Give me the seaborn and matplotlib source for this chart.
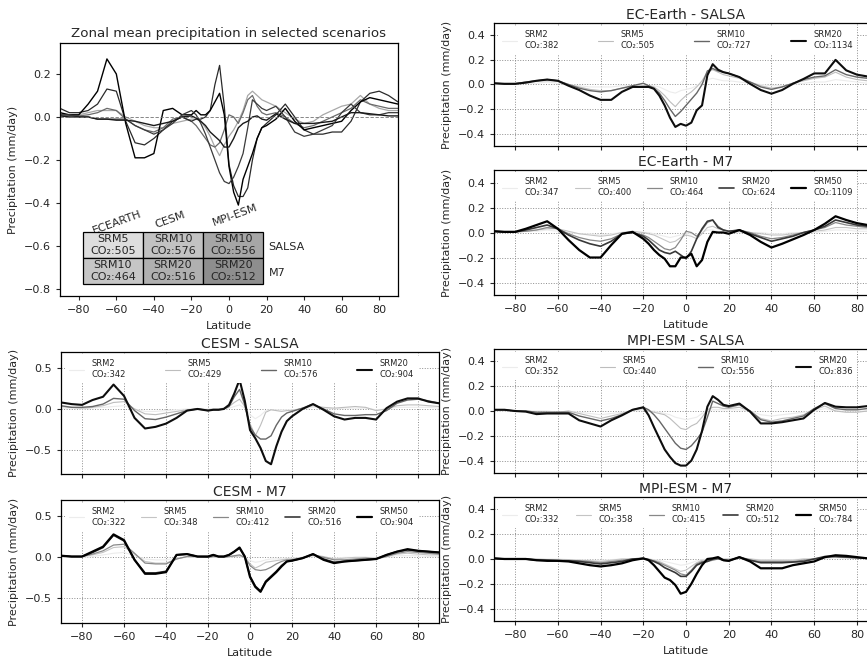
import numpy as np
import pandas as pd
import matplotlib
matplotlib.use("Agg")
import matplotlib.pyplot as plt
import seaborn as sns

sns.set_style("ticks")
plt.rcParams["font.family"] = ["DejaVu Sans"]

# ---------------- data ----------------
LAT = [-90, -85, -80, -75, -70, -65, -60, -55, -50, -45, -40, -35, -30, -25,
       -20, -17.5, -15, -12.5, -10, -7.5, -5, -2.5, 0, 2.5, 5, 7.5, 10, 12.5, 15, 17.5, 20,
       25, 30, 35, 40, 45, 50, 55, 60, 65, 70, 75, 80, 85, 90]

# EC-Earth SALSA
ECS_SRM2 = [0.0, 0.0, 0.01, 0.01, 0.01, 0.02, 0.01, 0.0, -0.01, -0.02, -0.02, -0.02, -0.01, -0.01,
            0.0, -0.01, -0.01, -0.02, -0.04, -0.06, -0.07, -0.05, -0.04, -0.03, -0.01, 0.01, 0.04, 0.05, 0.04, 0.03, 0.03,
            0.02, 0.01, 0.0, -0.01, -0.01, 0.0, 0.01, 0.02, 0.02, 0.04, 0.03, 0.02, 0.01, 0.01]
ECS_SRM5 = [0.01, 0.01, 0.01, 0.02, 0.03, 0.03, 0.03, 0.0, -0.02, -0.04, -0.05, -0.05, -0.03, -0.02,
            -0.01, -0.01, -0.02, -0.05, -0.09, -0.14, -0.18, -0.13, -0.09, -0.06, -0.02, 0.03, 0.10, 0.12, 0.10, 0.08, 0.07,
            0.05, 0.02, -0.01, -0.03, -0.02, 0.01, 0.03, 0.05, 0.06, 0.10, 0.06, 0.04, 0.03, 0.03]
ECS_SRM10 = [0.01, 0.005, 0.005, 0.02, 0.03, 0.04, 0.03, 0.0, -0.03, -0.05, -0.06, -0.05, -0.03, -0.01,
             0.01, -0.01, -0.03, -0.07, -0.13, -0.2, -0.26, -0.22, -0.17, -0.12, -0.07, 0.0, 0.11, 0.13, 0.11, 0.10, 0.09,
             0.06, 0.02, -0.02, -0.04, -0.02, 0.01, 0.04, 0.06, 0.07, 0.12, 0.08, 0.06, 0.05, 0.05]
ECS_SRM20 = [0.01, 0.005, 0.005, 0.015, 0.03, 0.04, 0.03, -0.01, -0.045, -0.09, -0.125, -0.125, -0.06, -0.02,
             -0.02, -0.02, -0.035, -0.09, -0.17, -0.27, -0.345, -0.32, -0.335, -0.31, -0.21, -0.17, 0.075, 0.165, 0.12, 0.10, 0.09,
             0.06, 0.005, -0.045, -0.075, -0.045, 0.005, 0.045, 0.09, 0.09, 0.2, 0.115, 0.08, 0.065, 0.065]

# EC-Earth M7
ECM_SRM2 = [0.0, 0.0, 0.0, 0.01, 0.01, 0.02, 0.01, 0.0, -0.01, -0.01, -0.02, -0.01, 0.0, 0.0,
            0.0, 0.0, -0.01, -0.02, -0.03, -0.04, -0.03, -0.02, -0.01, -0.01, -0.02, 0.0, 0.02, 0.02, 0.01, 0.01, 0.0,
            0.0, 0.0, 0.0, -0.01, -0.01, 0.0, 0.0, 0.0, 0.01, 0.02, 0.02, 0.01, 0.01, 0.01]
ECM_SRM5 = [0.01, 0.01, 0.01, 0.01, 0.02, 0.03, 0.03, 0.01, -0.01, -0.02, -0.03, -0.02, 0.0, 0.01,
            0.0, -0.01, -0.02, -0.04, -0.06, -0.08, -0.07, -0.04, -0.02, -0.03, -0.05, -0.01, 0.04, 0.05, 0.03, 0.02, 0.01,
            0.01, 0.0, -0.01, -0.02, -0.02, -0.01, 0.0, 0.01, 0.02, 0.04, 0.04, 0.03, 0.03, 0.03]
ECM_SRM10 = [0.01, 0.005, 0.005, 0.01, 0.02, 0.04, 0.03, -0.01, -0.04, -0.06, -0.07, -0.05, -0.01, 0.0,
             -0.02, -0.04, -0.07, -0.1, -0.13, -0.14, -0.12, -0.06, 0.01, 0.0, -0.03, 0.02, 0.08, 0.1, 0.05, 0.02, 0.01,
             0.02, 0.0, -0.03, -0.05, -0.04, -0.02, 0.0, 0.02, 0.04, 0.08, 0.06, 0.05, 0.04, 0.04]
ECM_SRM20 = [0.01, 0.005, 0.005, 0.02, 0.04, 0.06, 0.03, -0.02, -0.06, -0.09, -0.11, -0.07, -0.01, 0.0,
             -0.03, -0.06, -0.1, -0.14, -0.16, -0.17, -0.15, -0.18, -0.21, -0.15, -0.05, 0.03, 0.09, 0.1, 0.04, 0.02, 0.01,
             0.02, -0.01, -0.04, -0.07, -0.05, -0.03, 0.0, 0.02, 0.05, 0.1, 0.08, 0.06, 0.05, 0.04]
ECM_SRM50 = [0.01, 0.005, 0.005, 0.03, 0.06, 0.09, 0.03, -0.06, -0.14, -0.2, -0.2, -0.10, -0.01, 0.005,
             -0.05, -0.09, -0.14, -0.18, -0.21, -0.27, -0.27, -0.2, -0.2, -0.17, -0.27, -0.22, -0.075, 0.005, 0.0, 0.0, -0.01,
             0.02, -0.02, -0.075, -0.12, -0.09, -0.055, -0.02, 0.02, 0.07, 0.13, 0.10, 0.075, 0.06, 0.05]

# CESM SALSA
CS_SRM2 = [0.01, 0.01, 0.0, 0.01, 0.02, 0.03, 0.04, 0.0, -0.03, -0.03, -0.02, -0.01, 0.0, 0.0,
           0.0, 0.0, 0.0, 0.0, 0.01, 0.03, 0.05, 0.01, -0.07, -0.12, -0.08, -0.02, -0.01, -0.01, -0.01, -0.01, -0.01,
           0.0, 0.02, 0.01, 0.0, 0.01, 0.01, 0.01, -0.01, 0.0, 0.02, 0.02, 0.02, 0.02, 0.01]
CS_SRM5 = [0.03, 0.02, 0.01, 0.02, 0.04, 0.08, 0.09, 0.0, -0.06, -0.07, -0.05, -0.03, -0.01, 0.0,
           -0.01, 0.0, 0.0, 0.01, 0.03, 0.08, 0.12, 0.03, -0.18, -0.33, -0.2, -0.04, -0.01, -0.02, -0.03, -0.02, -0.02,
           0.01, 0.04, 0.02, 0.01, 0.02, 0.03, 0.02, -0.02, 0.0, 0.04, 0.05, 0.05, 0.04, 0.03]
CS_SRM10 = [0.04, 0.02, 0.02, 0.03, 0.06, 0.13, 0.12, -0.02, -0.12, -0.13, -0.10, -0.06, -0.02, 0.0,
            -0.02, -0.01, -0.01, 0.0, 0.03, 0.15, 0.24, 0.05, -0.22, -0.32, -0.37, -0.37, -0.33, -0.2, -0.1, -0.05, -0.03,
            0.01, 0.06, 0.0, -0.06, -0.08, -0.08, -0.07, -0.07, -0.02, 0.07, 0.11, 0.12, 0.10, 0.07]
CS_SRM20 = [0.08, 0.06, 0.05, 0.11, 0.15, 0.30, 0.16, -0.11, -0.24, -0.22, -0.18, -0.11, -0.02, 0.0,
            -0.02, -0.01, -0.01, 0.0, 0.05, 0.19, 0.36, 0.10, -0.26, -0.36, -0.48, -0.64, -0.68, -0.46, -0.28, -0.15, -0.09,
            0.0, 0.06, -0.01, -0.09, -0.13, -0.11, -0.11, -0.13, 0.01, 0.09, 0.13, 0.13, 0.09, 0.07]

# CESM M7
CM_SRM2 = [0.0, 0.0, 0.0, 0.01, 0.03, 0.05, 0.06, 0.02, -0.02, -0.03, -0.03, -0.01, 0.0, 0.0,
           0.0, 0.0, 0.0, 0.0, 0.0, 0.01, 0.01, 0.0, -0.04, -0.06, -0.05, -0.03, -0.02, -0.02, -0.01, -0.01, -0.01,
           0.0, 0.01, 0.0, -0.01, 0.0, 0.0, 0.0, 0.0, 0.0, 0.02, 0.02, 0.02, 0.01, 0.01]
CM_SRM5 = [0.01, 0.01, 0.01, 0.03, 0.06, 0.12, 0.13, 0.04, -0.05, -0.07, -0.07, -0.02, 0.01, 0.01,
           0.0, 0.01, 0.0, 0.0, 0.01, 0.01, 0.02, 0.0, -0.08, -0.13, -0.1, -0.06, -0.05, -0.04, -0.03, -0.02, -0.02,
           0.0, 0.03, 0.01, -0.02, -0.01, 0.0, 0.0, -0.01, 0.01, 0.04, 0.05, 0.04, 0.03, 0.03]
CM_SRM10 = [0.02, 0.01, 0.01, 0.04, 0.08, 0.15, 0.16, 0.05, -0.07, -0.08, -0.08, -0.02, 0.01, 0.01,
            0.0, 0.01, 0.01, 0.0, 0.01, 0.02, 0.03, 0.0, -0.1, -0.15, -0.16, -0.15, -0.12, -0.08, -0.05, -0.03, -0.03,
            -0.01, 0.03, 0.0, -0.03, -0.03, -0.02, -0.01, -0.02, 0.01, 0.05, 0.07, 0.06, 0.05, 0.04]
CM_SRM20 = [0.02, 0.01, 0.01, 0.06, 0.12, 0.27, 0.20, -0.03, -0.19, -0.19, -0.17, 0.03, 0.04, 0.01,
            0.01, 0.03, 0.01, 0.01, 0.03, 0.07, 0.11, 0.01, -0.23, -0.35, -0.41, -0.29, -0.23, -0.17, -0.10, -0.05, -0.04,
            -0.01, 0.04, -0.02, -0.06, -0.05, -0.04, -0.03, -0.02, 0.03, 0.07, 0.09, 0.08, 0.07, 0.06]
CM_SRM50 = [0.02, 0.01, 0.01, 0.07, 0.13, 0.28, 0.21, -0.03, -0.2, -0.2, -0.18, 0.03, 0.04, 0.01,
            0.01, 0.03, 0.01, 0.01, 0.03, 0.07, 0.12, 0.01, -0.24, -0.36, -0.42, -0.3, -0.24, -0.18, -0.11, -0.05, -0.04,
            -0.01, 0.04, -0.03, -0.07, -0.05, -0.04, -0.03, -0.02, 0.03, 0.07, 0.10, 0.08, 0.07, 0.06]

# MPI-ESM SALSA
MS_SRM2 = [0.0, 0.0, 0.0, 0.0, 0.0, 0.0, -0.01, 0.0, -0.01, -0.02, -0.03, -0.02, -0.01, 0.0,
           0.01, 0.0, 0.0, -0.01, -0.02, -0.03, -0.05, -0.06, -0.07, -0.06, -0.05, -0.02, 0.0, 0.01, 0.01, 0.01, 0.01,
           0.01, 0.0, -0.03, -0.04, -0.03, -0.02, -0.01, 0.0, 0.02, 0.0, 0.0, 0.0, 0.0, 0.0]
MS_SRM5 = [0.01, 0.01, 0.0, 0.0, -0.01, -0.01, -0.01, 0.0, -0.02, -0.04, -0.06, -0.04, -0.02, 0.01,
           0.02, 0.0, -0.01, -0.02, -0.03, -0.06, -0.1, -0.14, -0.15, -0.12, -0.1, -0.05, 0.01, 0.03, 0.03, 0.02, 0.02,
           0.03, 0.0, -0.06, -0.08, -0.06, -0.05, -0.03, 0.01, 0.04, 0.0, -0.01, -0.01, 0.0, 0.0]
MS_SRM10 = [0.01, 0.01, 0.0, 0.0, -0.01, -0.01, -0.01, -0.01, -0.04, -0.06, -0.08, -0.06, -0.03, 0.01,
            0.03, 0.01, -0.03, -0.08, -0.14, -0.2, -0.26, -0.3, -0.31, -0.28, -0.23, -0.17, -0.05, 0.08, 0.06, 0.04, 0.03,
            0.05, 0.0, -0.07, -0.09, -0.08, -0.06, -0.04, 0.02, 0.06, 0.02, 0.01, 0.01, 0.02, 0.02]
MS_SRM20 = [0.01, 0.01, 0.0, -0.005, -0.025, -0.02, -0.02, -0.02, -0.075, -0.1, -0.125, -0.075, -0.035, 0.01,
            0.03, -0.035, -0.13, -0.22, -0.31, -0.37, -0.42, -0.44, -0.44, -0.4, -0.31, -0.16, 0.035, 0.12, 0.09, 0.05, 0.04,
            0.06, -0.005, -0.1, -0.1, -0.09, -0.075, -0.06, 0.01, 0.065, 0.035, 0.03, 0.03, 0.04, 0.05]

# MPI-ESM M7
MM_SRM2 = [0.0, 0.0, 0.0, 0.0, 0.0, 0.0, 0.0, -0.005, -0.005, -0.01, -0.01, -0.005, 0.0, 0.0,
           0.0, 0.0, -0.005, -0.01, -0.02, -0.03, -0.04, -0.05, -0.045, -0.03, -0.015, -0.005, 0.0, 0.0, 0.0, 0.0, 0.0,
           0.005, 0.0, -0.005, -0.005, -0.005, -0.005, 0.0, 0.0, 0.005, 0.01, 0.005, 0.005, 0.0, 0.0]
MM_SRM5 = [0.005, 0.0, 0.0, 0.0, 0.0, -0.005, -0.005, -0.01, -0.01, -0.015, -0.02, -0.01, 0.0, 0.0,
           0.0, 0.0, -0.01, -0.02, -0.04, -0.06, -0.08, -0.1, -0.09, -0.06, -0.03, -0.01, -0.01, 0.0, 0.0, 0.0, 0.0,
           0.01, 0.0, -0.01, -0.01, -0.01, -0.01, 0.0, 0.0, 0.01, 0.015, 0.01, 0.01, 0.005, 0.005]
MM_SRM10 = [0.005, 0.0, 0.0, 0.0, -0.005, -0.01, -0.01, -0.01, -0.015, -0.02, -0.03, -0.02, -0.01, 0.0,
            0.0, -0.005, -0.015, -0.03, -0.05, -0.07, -0.09, -0.12, -0.13, -0.09, -0.04, -0.02, -0.02, -0.01, 0.0, -0.01, -0.01,
            0.01, -0.01, -0.02, -0.02, -0.02, -0.02, -0.01, 0.0, 0.015, 0.02, 0.015, 0.01, 0.005, 0.005]
MM_SRM20 = [0.005, 0.0, 0.0, 0.0, -0.01, -0.01, -0.015, -0.015, -0.02, -0.03, -0.04, -0.03, -0.02, 0.0,
            0.005, -0.005, -0.02, -0.04, -0.07, -0.09, -0.11, -0.14, -0.14, -0.1, -0.05, -0.03, -0.02, 0.0, 0.005, -0.01, -0.015,
            0.015, -0.01, -0.03, -0.03, -0.03, -0.025, -0.02, 0.0, 0.02, 0.02, 0.015, 0.01, 0.005, 0.005]
MM_SRM50 = [0.005, 0.0, 0.0, 0.0, -0.01, -0.015, -0.015, -0.02, -0.035, -0.05, -0.06, -0.05, -0.035, -0.01,
            0.005, -0.01, -0.05, -0.1, -0.15, -0.17, -0.21, -0.28, -0.265, -0.2, -0.12, -0.05, 0.0, 0.005, 0.015, -0.01, -0.015,
            0.015, -0.02, -0.075, -0.075, -0.075, -0.05, -0.035, -0.02, 0.015, 0.03, 0.025, 0.015, 0.005, 0.005]

SCEN4 = ["SRM2", "SRM5", "SRM10", "SRM20"]
SCEN5 = ["SRM2", "SRM5", "SRM10", "SRM20", "SRM50"]
ECS_CO2 = [382, 505, 727, 1134]
ECM_CO2 = [347, 400, 464, 624, 1109]
CS_CO2 = [342, 429, 576, 904]
CM_CO2 = [322, 348, 412, 516, 904]
MS_CO2 = [352, 440, 556, 836]
MM_CO2 = [332, 358, 415, 512, 784]

MODELS = ["ECEARTH", "CESM", "MPI-ESM"]
SCHEMES = ["SALSA", "M7"]
SEL_SALSA = [("SRM5", 505), ("SRM10", 576), ("SRM10", 556)]
SEL_M7 = [("SRM10", 464), ("SRM20", 516), ("SRM20", 512)]

# ---------------- styling ----------------
STY4 = [("#ececec", 0.8), ("#bdbdbd", 0.8), ("#666666", 1.0), ("#0d0d0d", 1.5)]
STY5 = [("#ececec", 0.8), ("#c4c4c4", 0.8), ("#888888", 0.9), ("#383838", 1.2), ("#000000", 1.6)]

fig = plt.figure(figsize=(8.67, 6.60), dpi=100)
XT = [-80, -60, -40, -20, 0, 20, 40, 60, 80]


def style_axes(ax, ylim, yticks, show_xlabels, grid=True):
    ax.set_xlim(-90, 90)
    ax.set_ylim(*ylim)
    ax.set_xticks(XT)
    ax.set_yticks(yticks)
    ax.tick_params(labelsize=8, direction="out", length=3, width=0.8)
    for s in ax.spines.values():
        s.set_linewidth(0.9)
        s.set_color("black")
    if grid:
        ax.grid(True, ls=":", color="0.55", lw=0.7)
    ax.set_ylabel("Precipitation (mm/day)", fontsize=8)
    if show_xlabels:
        ax.set_xlabel("Latitude", fontsize=8)
    else:
        ax.set_xlabel("")
        ax.set_xticklabels([])


def panel(rect, title, names, series, co2, ylim, yticks, show_x):
    ax = fig.add_axes(rect)
    sty = STY4 if len(names) == 4 else STY5
    df = pd.DataFrame({"lat": LAT})
    for name, vals, c, (col, lw) in zip(names, series, co2, sty):
        df[name] = vals
        sns.lineplot(data=df, x="lat", y=name, ax=ax, color=col, linewidth=lw,
                     label=f"{name}\nCO\u2082:{c}")
    style_axes(ax, ylim, yticks, show_x)
    ax.set_title(title, fontsize=10, pad=3)
    ax.legend(ncol=len(names), loc="upper left", bbox_to_anchor=(0.008, 0.985, 0.94, 0),
              mode="expand", fontsize=6, frameon=True, framealpha=1.0,
              edgecolor="none", facecolor="white", handlelength=1.8,
              handletextpad=0.9, borderaxespad=0.1, borderpad=0.55)
    return ax


RX, RW = 0.5695, 0.4435
LX, LW = 0.0704, 0.4360

panel([RX, 0.7788, RW, 0.1864], "EC-Earth - SALSA", SCEN4,
      [ECS_SRM2, ECS_SRM5, ECS_SRM10, ECS_SRM20], ECS_CO2, (-0.5, 0.5),
      [-0.4, -0.2, 0.0, 0.2, 0.4], False)
panel([RX, 0.5530, RW, 0.1894], "EC-Earth - M7", SCEN5,
      [ECM_SRM2, ECM_SRM5, ECM_SRM10, ECM_SRM20, ECM_SRM50], ECM_CO2, (-0.5, 0.5),
      [-0.4, -0.2, 0.0, 0.2, 0.4], True)
panel([LX, 0.2818, LW, 0.1848], "CESM - SALSA", SCEN4,
      [CS_SRM2, CS_SRM5, CS_SRM10, CS_SRM20], CS_CO2, (-0.8, 0.7),
      [-0.5, 0.0, 0.5], False)
panel([LX, 0.0561, LW, 0.1864], "CESM - M7", SCEN5,
      [CM_SRM2, CM_SRM5, CM_SRM10, CM_SRM20, CM_SRM50], CM_CO2, (-0.8, 0.7),
      [-0.5, 0.0, 0.5], True)
panel([RX, 0.2833, RW, 0.1879], "MPI-ESM - SALSA", SCEN4,
      [MS_SRM2, MS_SRM5, MS_SRM10, MS_SRM20], MS_CO2, (-0.5, 0.5),
      [-0.4, -0.2, 0.0, 0.2, 0.4], False)
panel([RX, 0.0591, RW, 0.1879], "MPI-ESM - M7", SCEN5,
      [MM_SRM2, MM_SRM5, MM_SRM10, MM_SRM20, MM_SRM50], MM_CO2, (-0.5, 0.5),
      [-0.4, -0.2, 0.0, 0.2, 0.4], True)

# ---------------- top-left summary panel ----------------
ax0 = fig.add_axes([0.0692, 0.5515, 0.3898, 0.3833])
sel = [(ECS_SRM5, "#a8a8a8", 0.9), (ECM_SRM10, "#6a6a6a", 0.9),
       (CS_SRM10, "#2a2a2a", 0.9), (CM_SRM20, "#000000", 1.0),
       (MS_SRM10, "#3a3a3a", 0.9), (MM_SRM20, "#1a1a1a", 1.0)]
for vals, col, lw in sel:
    sns.lineplot(x=LAT, y=vals, ax=ax0, color=col, linewidth=lw)
ax0.axhline(0, color="0.45", lw=0.6, ls=(0, (4, 2)))
style_axes(ax0, (-0.833, 0.344), [-0.8, -0.6, -0.4, -0.2, 0.0, 0.2], True, grid=False)
ax0.set_title("Zonal mean precipitation in selected scenarios", fontsize=9.6, pad=4)

cell_text = [[f"{s}\nCO\u2082:{c}" for s, c in SEL_SALSA],
             [f"{s}\nCO\u2082:{c}" for s, c in SEL_M7]]
cell_cols = [["#dedede", "#c2c2c2", "#a6a6a6"],
             ["#c6c6c6", "#b0b0b0", "#8e8e8e"]]
tab = ax0.table(cellText=cell_text, cellColours=cell_cols, cellLoc="center",
                bbox=[0.068, 0.047, 0.533, 0.206], zorder=5)
tab.auto_set_font_size(False)
tab.set_fontsize(8)
for (r, c), cell in tab.get_celld().items():
    cell.set_edgecolor("black")
    cell.set_linewidth(0.9)

col_x = [-59.5, -31.5, 3.5]
col_y = [-0.49, -0.48, -0.455]
for m, x, y in zip(MODELS, col_x, col_y):
    ax0.text(x, y, m, rotation=20, ha="center", va="center", fontsize=8)
ax0.text(21, -0.605, SCHEMES[0], ha="left", va="center", fontsize=8)
ax0.text(21, -0.726, SCHEMES[1], ha="left", va="center", fontsize=8)

fig.savefig("out.png", dpi=100)
